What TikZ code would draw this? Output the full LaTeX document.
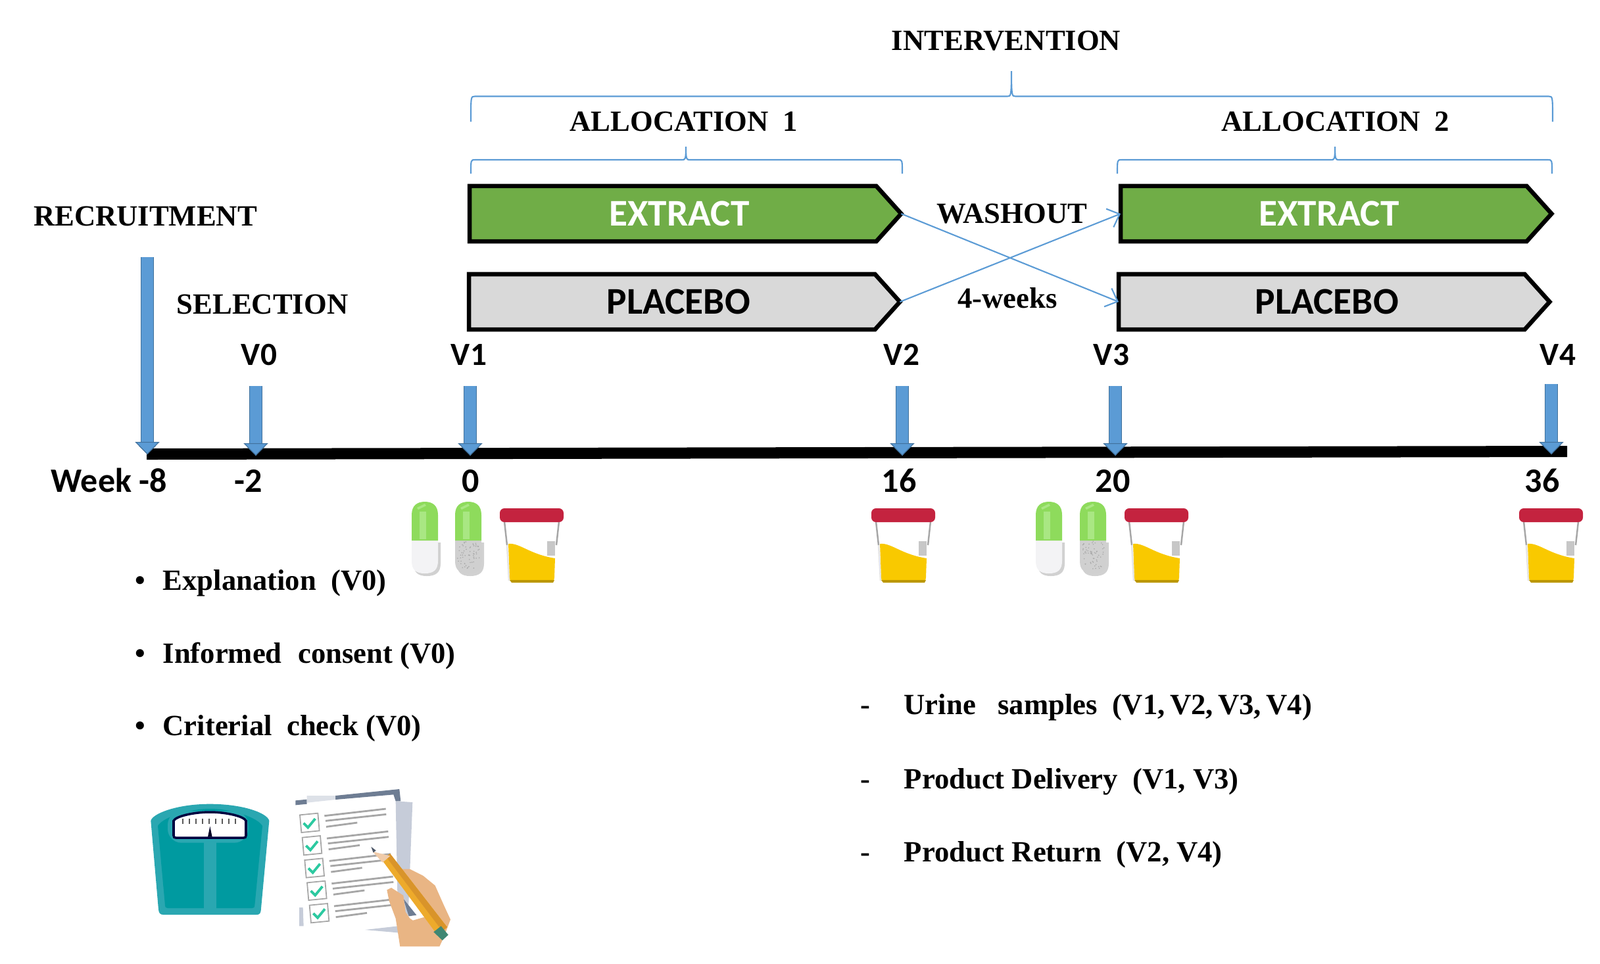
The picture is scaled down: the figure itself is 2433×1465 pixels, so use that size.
\documentclass[tikz,border=0pt]{standalone}
\usepackage{fontspec}
\setmainfont{Liberation Serif}
\newfontfamily\visfont{Carlito}
\usetikzlibrary{positioning, shapes.symbols, arrows.meta, calc}
\definecolor{visblue}{HTML}{5B9BD5}
\definecolor{visedge}{HTML}{41719C}
\definecolor{extgreen}{HTML}{70AD47}
\definecolor{plagrey}{HTML}{D9D9D9}
\definecolor{capgreen}{HTML}{8EDB5C}
\definecolor{caplight}{HTML}{A9E783}
\definecolor{capwhite}{HTML}{F3F3F5}
\definecolor{capgrey}{HTML}{D0D0D0}
\definecolor{capspot}{HTML}{A8A8A8}
\definecolor{cuplid}{HTML}{C4233F}
\definecolor{cupfill}{HTML}{F9C900}
\definecolor{scaleout}{HTML}{2AA7B1}
\definecolor{scalein}{HTML}{009AA0}
\definecolor{handskin}{HTML}{E9B584}
\definecolor{pencilbody}{HTML}{EDAA2B}
\definecolor{pencilside}{HTML}{D9942A}
\definecolor{checkgreen}{HTML}{2CC9A0}
\definecolor{sheetback}{HTML}{C6CCD9}
\definecolor{sheetdark}{HTML}{6E7D93}
\definecolor{sheetpale}{HTML}{DDE1E8}
\tikzset{
    pics/capsule/.style n args={2}{code={
        \fill [black!18] (3,62) -- (44,62) -- (44,94) .. controls (44,108) and (36,113) .. (23,113)
            .. controls (10,113) and (3,108) .. (3,94) -- cycle;
        \fill [#1] (0,59) -- (40,59) -- (40,90) .. controls (40,104) and (33,109) .. (20,109)
            .. controls (7,109) and (0,104) .. (0,90) -- cycle;
        \foreach \i in {1,...,60}
            \fill [#2] ({3+34*rnd},{60+42*rnd}) circle (0.9);
        \fill [capgreen] (0,59) -- (0,20) .. controls (0,6) and (8,0) .. (20,0)
            .. controls (32,0) and (40,6) .. (40,20) -- (40,59) -- cycle;
        \fill [caplight] (12,15) rectangle (22,57);
        \fill [caplight] (8,9) -- (20,3) -- (22,6) -- (10,12) -- cycle;
    }},
    pics/samplecup/.style={code={
        \fill [white] (7,20) -- (90,20) -- (83,112) -- (15,112) -- cycle;
        \draw [black!35, line width=.7pt] (7,20) -- (11,56);
        \draw [black!35, line width=.7pt] (90,20) -- (86,56);
        \draw [black!10, line width=.7pt] (11,56) -- (14,110);
        \fill [cupfill] (13,54) .. controls (30,52) and (45,70) .. (84,76) -- (83,105)
            .. controls (83,110) and (80,112) .. (76,112) -- (21,112) .. controls (17,112) and (15,110) .. (15,105) -- cycle;
        \fill [black!25!cupfill] (15,109) -- (83,109) -- (81,113) -- (18,113) -- cycle;
        \fill [black!22] (72,50) rectangle (84,72);
        \fill [cuplid, rounded corners=2pt] (0,0) rectangle (97,21);
    }}
}
\begin{document}
\begin{tikzpicture}
        [
            x=0.01cm, y=-0.01cm,
            lab/.style={anchor=base, inner sep=0pt, font=\fontsize{12.7}{15}\selectfont\bfseries},
            item/.style={lab, anchor=base west},
            vis/.style={anchor=base, inner sep=0pt, font=\fontsize{14}{17}\selectfont\visfont\bfseries},
            wk/.style={vis, font=\fontsize{14.8}{17}\selectfont\visfont\bfseries},
            phase/.style={signal, signal to=east, signal pointer angle=96, draw=black, line width=0.065cm,
                          anchor=west, inner sep=0pt, outer sep=0pt, minimum height=0.84cm,
                          font=\fontsize{16.3}{20}\selectfont\visfont\bfseries},
            visit/.style={draw=visblue, line width=0.18cm, preaction={draw=visedge, line width=0.2cm},
                          -{Triangle[width=0.37cm, length=0.19cm, color=visedge, fill=visblue, line width=0.3pt]}},
            swap/.style={draw=visblue, line width=0.6pt, -{Straight Barb[length=1.6mm, width=3mm]}},
            brace/.style={draw=visblue, line width=0.6pt}
        ]
        \useasboundingbox (0,0) rectangle (2433,1465);
        % titles
        \node (interv) [lab] at (1530,76) {INTERVENTION};
        \node (alloc1) [lab] at (1040,199) {ALLOCATION~~1};
        \node (alloc2) [lab] at (2031,199) {ALLOCATION~~2};
        \node (recruit) [lab] at (221,343) {RECRUITMENT};
        \node (select) [lab] at (399,477) {SELECTION};
        \node (washout) [lab] at (1539,339) {WASHOUT};
        \node (weeks) [lab] at (1532,468) {4-weeks};
        % braces
        \foreach \l/\m/\r/\t/\c/\e in {716/1538/2361/108/146.5/185, 716/1043/1372/223/243/264, 1699/2030/2360/223/243/264}
            \draw [brace] (\l,\e) .. controls (\l,\c) and (\l,\c) .. (\l+6,\c) -- (\m-6,\c)
                .. controls (\m-1,\c) and (\m,\c) .. (\m,\t) .. controls (\m,\c) and (\m+1,\c) .. (\m+6,\c)
                -- (\r-6,\c) .. controls (\r,\c) and (\r,\c) .. (\r,\e);
        % products
        \node (ext1) [phase, fill=extgreen, text=white, minimum width=6.56cm] at (714,325) {\hspace*{0.19cm}EXTRACT};
        \node (pla1) [phase, fill=plagrey, minimum width=6.55cm] at (713,459) {\hspace*{0.2cm}PLACEBO};
        \node (ext2) [phase, fill=extgreen, text=white, minimum width=6.55cm] at (1704,325) {\hspace*{0.16cm}EXTRACT};
        \node (pla2) [phase, fill=plagrey, minimum width=6.55cm] at (1701,459) {\hspace*{0.16cm}PLACEBO};
        \draw [swap] (ext1.east) -- (pla2.west);
        \draw [swap] (pla1.east) -- (ext2.west);
        % time line
        \coordinate (axl) at (223,690.5);
        \coordinate (axr) at (2383,686.5);
        \draw [line width=0.17cm] (axl) -- (axr);
        \foreach \n/\x/\t/\b in {r/224/391/691, a/389/587/693, b/715/587/693, c/1372/587/693, d/1696/587/693, e/2359/584/691} {
            \coordinate (t\n) at (\x,\t);
            \coordinate (b\n) at (\x,\b);
            \draw [visit] (t\n) -- (b\n);
        }
        \foreach \n/\x/\t in {v0/394/V0, v1/713/V1, v2/1371/V2, v3/1690/V3, v4/2369/V4}
            \node (\n) [vis] at (\x,555) {\t};
        \foreach \n/\x/\t in {w8/166/Week -8, w2/378/-2, w0/716/0, w16/1367/16, w20/1692/20, w36/2345/36}
            \node (\n) [wk] at (\x,748) {\t};
        % capsules and cups
        \foreach \x/\c/\s in {626/capwhite/capwhite, 692/capgrey/capspot, 1575/capwhite/capwhite, 1642/capgrey/capspot}
            \pic at (\x,763) {capsule={\c}{\s}};
        \foreach \x in {760, 1325, 1710, 2310}
            \pic at (\x,773) {samplecup};
        % lists
        \foreach \n/\y/\t in {exp/897/Explanation~~(V0), inf/1008/Informed~~\kern.6pt consent (V0), cri/1118/Criterial~~check (V0)} {
            \node (\n) [item] at (247,\y) {\t};
            \node (\n b) [lab] at (213,\y) {\textbullet};
        }
        \foreach \n/\y/\t in {uri/1086/Urine~~~samples~~(V1{,}\,V2{,}\,V3{,}\,V4), del/1199/Product Delivery~~(V1{,} V3), ret/1310/Product Return~~(V2{,} V4)} {
            \node (\n) [item] at (1374,\y) {\t};
            \node (\n d) [lab] at (1316,\y) {-};
        }
        % weighing scale
        \begin{scope}[shift={(200,1180)}, scale=1/3]
            \fill [scaleout] (88,205) .. controls (92,175) and (200,128) .. (358,128) .. controls (510,128) and (622,170) .. (628,205)
                -- (590,615) .. controls (588,630) and (580,633) .. (570,633) -- (145,633) .. controls (130,633) and (125,625) .. (123,610) -- cycle;
            \fill [scalein] (120,228) .. controls (140,190) and (260,150) .. (358,150) .. controls (460,150) and (575,190) .. (597,228)
                -- (562,590) .. controls (561,600) and (558,603) .. (550,603) -- (165,603) .. controls (157,603) and (154,600) .. (153,590) -- cycle;
            \fill [scaleout] (330,290) rectangle (388,610);
            \fill [scaleout, rounded corners=6pt] (165,160) rectangle (532,305);
            \draw [fill=white, draw=black!75!blue, line width=1pt] (192,272) -- (192,205) .. controls (200,185) and (280,165) .. (358,165)
                .. controls (435,165) and (515,185) .. (522,205) -- (522,272) .. controls (522,280) and (518,282) .. (512,282)
                -- (202,282) .. controls (196,282) and (192,280) .. (192,272) -- cycle;
            \foreach \x in {235,265,...,480}
                \draw [black!65, line width=.6pt] (\x,195) -- (\x,218);
            \fill [black!85!blue] (358,230) -- (368,278) -- (348,278) -- cycle;
        \end{scope}
        % check list
        \begin{scope}[shift={(200,1180)}, scale=1/3]
            \fill [sheetback] (1205,115) -- (1282,120) -- (1262,640) -- (1215,640) -- cycle;
            \fill [sheetdark] (930,90) -- (1222,60) -- (1228,115) -- (1205,115) -- (1195,85) -- (930,108) -- cycle;
            \fill [sheetdark] (748,112) -- (800,107) -- (800,128) -- (748,133) -- cycle;
            \fill [sheetpale] (800,90) -- (930,90) -- (930,108) -- (800,122) -- cycle;
            \fill [sheetback] (765,600) -- (782,600) -- (785,685) -- (765,685) -- cycle;
            \fill [sheetback] (1065,702) -- (1215,685) -- (1215,715) -- cycle;
            \foreach \i in {0,...,4} {
                \begin{scope}[shift={(11*\i,103*\i)}]
                    \draw [black!35, line width=.5pt] (768,178) -- (850,170) -- (857,250) -- (775,258) -- cycle;
                    \draw [checkgreen, line width=1.1pt] (785,215) -- (805,235) -- (838,195);
                    \draw [black!35, line width=.8pt] (880,182) -- (1160,150);
                    \draw [black!35, line width=.8pt] (885,205) -- (1162,175);
                    \draw [black!35, line width=.8pt] (888,232) -- (1030,213);
                \end{scope}
            }
            \fill [sheetdark] (1240,560) -- (1300,635) -- (1265,640) -- cycle;
            \fill [handskin] (1225,778) -- (1405,778) -- (1425,735) -- (1455,655) -- (1425,590) -- (1385,500) -- (1330,455)
                -- (1270,425) -- (1230,425) -- (1225,450) -- (1290,520) -- (1350,640) -- (1280,660) -- (1330,690) -- (1270,650)
                -- (1250,620) -- (1240,545) -- (1185,510) -- (1165,520) -- (1175,570) -- (1205,650) -- cycle;
            \fill [pencilbody] (1140,380) -- (1180,355) -- (1440,690) -- (1395,725) -- cycle;
            \fill [pencilside] (1160,367) -- (1180,355) -- (1440,690) -- (1418,708) -- cycle;
            \fill [handskin!70!white] (1100,345) -- (1145,395) -- (1180,365) -- cycle;
            \fill [sheetdark!70!black] (1093,323) -- (1115,340) -- (1103,350) -- cycle;
            \fill [black!60!cyan!60!green] (1378,712) -- (1412,685) -- (1445,725) -- (1418,750) -- cycle;
        \end{scope}
    \end{tikzpicture}
\end{document}
